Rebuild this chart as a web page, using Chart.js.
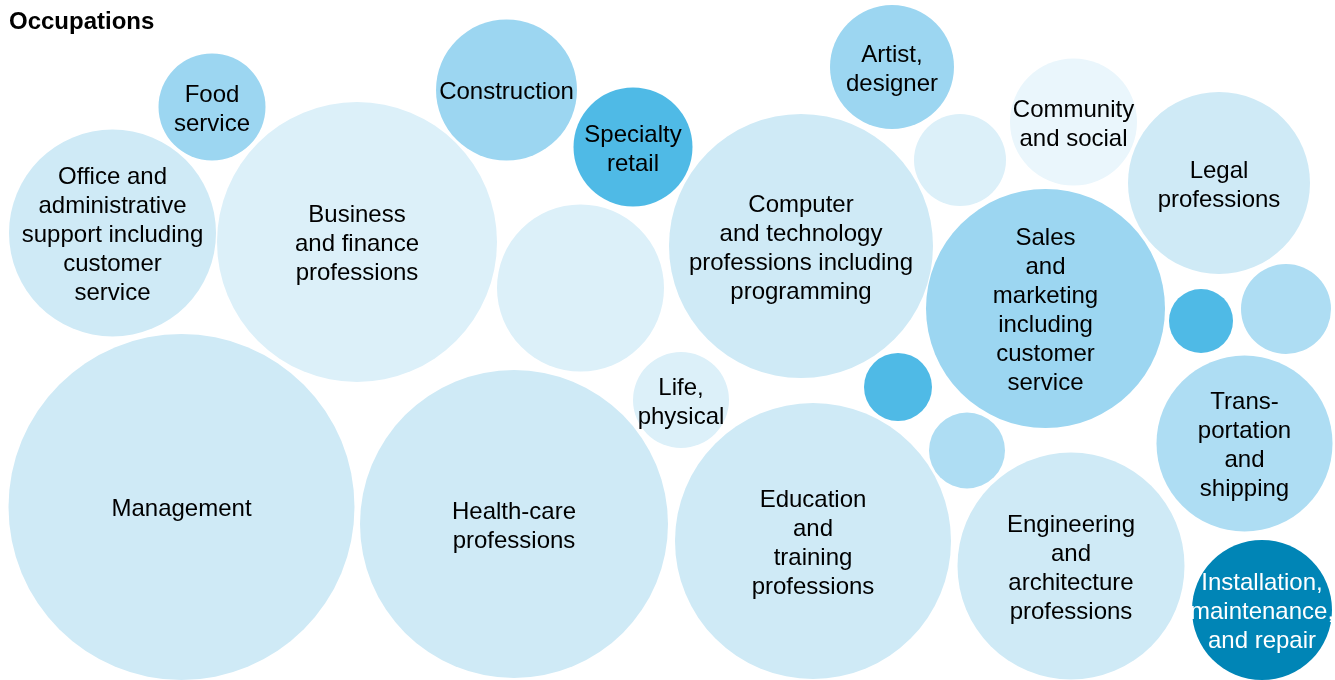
<!DOCTYPE html>
<html>
<head>
<meta charset="utf-8">
<script src="https://cdn.jsdelivr.net/npm/chart.js@4.4.1/dist/chart.umd.min.js"></script>
<style>
  html, body { margin: 0; padding: 0; background: #ffffff; }
  #wrap { position: relative; width: 1335px; height: 680px; }
</style>
</head>
<body>
<div id="wrap"><canvas id="c"></canvas></div>
<script>
// ---- Data ----
const chartTitle = "Occupations";
const occupations = [
  "Food\nservice",
  "Office and\nadministrative\nsupport including\ncustomer\nservice",
  "Business\nand finance\nprofessions",
  "Construction",
  "Specialty\nretail",
  "",
  "Artist,\ndesigner",
  "",
  "Community\nand social",
  "Legal\nprofessions",
  "Computer\nand technology\nprofessions including\nprogramming",
  "Sales\nand\nmarketing\nincluding\ncustomer\nservice",
  "",
  "",
  "Life,\nphysical",
  "",
  "",
  "Trans-\nportation\nand\nshipping",
  "Management",
  "Health-care\nprofessions",
  "Education\nand\ntraining\nprofessions",
  "Engineering\nand\narchitecture\nprofessions",
  "Installation,\nmaintenance,\nand repair"
];
const xValues = [212, 112.5, 357, 506.5, 633, 580.5, 892, 960, 1073.5, 1219, 801, 1045.5, 1201, 1286, 681, 898, 967, 1244.5, 181.5, 514, 813, 1071, 1262];
const yValues = [107, 233, 242, 90, 147, 288, 67, 160, 122, 183, 246, 308.5, 321, 309, 400, 387, 450.5, 443.5, 507, 524, 541, 566, 610];
const sizes   = [53.5, 103.5, 140, 70.5, 59.5, 83.5, 62, 46, 63.5, 91, 132, 119.5, 32, 45, 48, 34, 38, 88, 173, 154, 138, 113.5, 70];
const shadeLevel = [3, 1, 0, 3, 4, 0, 3, 0, -1, 1, 1, 3, 4, 2, 0, 4, 2, 2, 1, 1, 1, 1, 5];

// ---- Styles ----
const palette = {"-1": "#eaf6fc", 0: "#dcf0f9", 1: "#cfeaf6", 2: "#aeddf3", 3: "#9cd6f1", 4: "#4fbae6", 5: "#0085b6"};
const colors = shadeLevel.map(s => palette[s]);
const textColors = shadeLevel.map(s => s === 5 ? "#ffffff" : "#000000");

const points = xValues.map((x, i) => ({x: x, y: yValues[i], r: sizes[i]}));

const labelPlugin = {
  id: "bubbleLabels",
  afterDatasetsDraw(chart) {
    const ctx = chart.ctx;
    const meta = chart.getDatasetMeta(0);
    ctx.save();
    ctx.font = "24px 'Liberation Sans', Arial, sans-serif";
    ctx.textAlign = "center";
    ctx.textBaseline = "middle";
    const lh = 29;
    meta.data.forEach((el, i) => {
      const txt = occupations[i];
      if (!txt) return;
      const lines = txt.split("\n");
      const y0 = el.y - (lines.length - 1) * lh / 2 + 2.5;
      ctx.fillStyle = textColors[i];
      lines.forEach((ln, k) => ctx.fillText(ln, el.x, y0 + k * lh));
    });
    ctx.font = "bold 24px 'Liberation Sans', Arial, sans-serif";
    ctx.textAlign = "left";
    ctx.textBaseline = "alphabetic";
    ctx.fillStyle = "#000000";
    ctx.fillText(chartTitle, 9, 29);
    ctx.restore();
  }
};

new Chart(document.getElementById("c"), {
  type: "bubble",
  data: {
    datasets: [{
      label: chartTitle,
      data: points,
      backgroundColor: colors,
      borderWidth: 0,
      hoverRadius: 0,
      clip: false
    }]
  },
  options: {
    responsive: true,
    maintainAspectRatio: false,
    animation: false,
    layout: { padding: 0, autoPadding: false },
    events: [],
    plugins: { legend: { display: false }, tooltip: { enabled: false }, title: { display: false } },
    scales: {
      x: { type: "linear", min: 0, max: 1335, display: false },
      y: { type: "linear", min: 0, max: 680, reverse: true, display: false }
    }
  },
  plugins: [labelPlugin]
});
</script>
</body>
</html>
